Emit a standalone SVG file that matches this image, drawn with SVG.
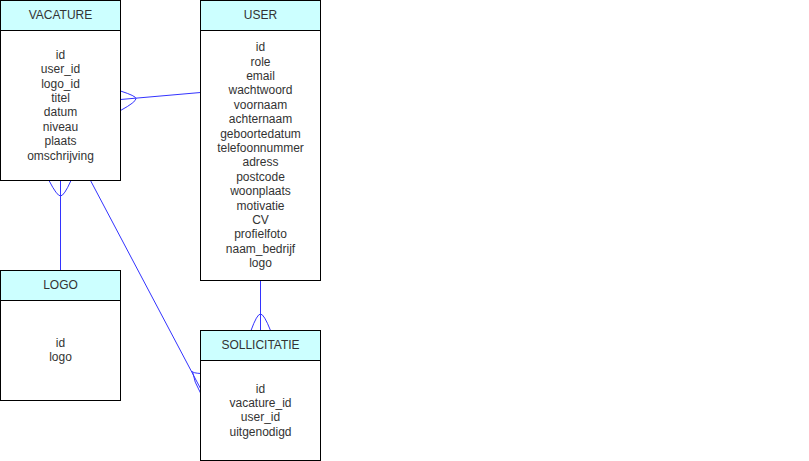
<svg xmlns="http://www.w3.org/2000/svg" width="809" height="461" viewBox="0 0 809 461">
<style>
.box{fill:#ffffff;stroke:#000000;stroke-width:1}
.hdr{fill:#ccffff;stroke:#000000;stroke-width:1}
.t{font-family:"Liberation Sans",Arial,sans-serif;font-size:12px;fill:#333333;text-anchor:middle}
.c{fill:none;stroke:#3333ff;stroke-width:1}
</style>
<rect width="809" height="461" fill="#ffffff"/>
<g id="connectors">
<path class="c" d="M120.5,99.5 L200.5,92.5"/>
<path class="c" d="M120.5,91 Q136,96 136,98.5 Q136,102 120.5,110.5"/>
<path class="c" d="M60.5,180.5 L60.5,270.5"/>
<path class="c" d="M49,180.5 Q57,196 60.5,196 Q64,196 71,180.5"/>
<path class="c" d="M260.5,280.5 L260.5,330.5"/>
<path class="c" d="M251,330.5 Q257,314 260.5,314 Q264,314 270.5,330.5"/>
<path class="c" d="M90.5,180.5 L200.5,388.5"/>
<path class="c" d="M200.5,373.5 Q193,373 192.5,371.5 Q194,382 200.5,393"/>
</g>
<g id="vacature">
<rect class="box" x="0.5" y="0.5" width="120" height="180"/>
<rect class="hdr" x="0.5" y="0.5" width="120" height="30"/>
<text class="t" x="60.5" y="19.3">VACATURE</text>
<text class="t" x="60.5" y="58.8">id</text>
<text class="t" x="60.5" y="73.2">user_id</text>
<text class="t" x="60.5" y="87.6">logo_id</text>
<text class="t" x="60.5" y="102">titel</text>
<text class="t" x="60.5" y="116.4">datum</text>
<text class="t" x="60.5" y="130.8">niveau</text>
<text class="t" x="60.5" y="145.2">plaats</text>
<text class="t" x="60.5" y="159.6">omschrijving</text>
</g>
<g id="user">
<rect class="box" x="200.5" y="0.5" width="120" height="280"/>
<rect class="hdr" x="200.5" y="0.5" width="120" height="30"/>
<text class="t" x="260.5" y="19.3">USER</text>
<text class="t" x="260.5" y="51.2">id</text>
<text class="t" x="260.5" y="65.6">role</text>
<text class="t" x="260.5" y="80">email</text>
<text class="t" x="260.5" y="94.4">wachtwoord</text>
<text class="t" x="260.5" y="108.8">voornaam</text>
<text class="t" x="260.5" y="123.2">achternaam</text>
<text class="t" x="260.5" y="137.6">geboortedatum</text>
<text class="t" x="260.5" y="152">telefoonnummer</text>
<text class="t" x="260.5" y="166.4">adress</text>
<text class="t" x="260.5" y="180.8">postcode</text>
<text class="t" x="260.5" y="195.2">woonplaats</text>
<text class="t" x="260.5" y="209.6">motivatie</text>
<text class="t" x="260.5" y="224">CV</text>
<text class="t" x="260.5" y="238.4">profielfoto</text>
<text class="t" x="260.5" y="252.8">naam_bedrijf</text>
<text class="t" x="260.5" y="267.2">logo</text>
</g>
<g id="logo">
<rect class="box" x="0.5" y="270.5" width="120" height="130"/>
<rect class="hdr" x="0.5" y="270.5" width="120" height="30"/>
<text class="t" x="60.5" y="289.3">LOGO</text>
<text class="t" x="60.5" y="347">id</text>
<text class="t" x="60.5" y="361.4">logo</text>
</g>
<g id="sollicitatie">
<rect class="box" x="200.5" y="330.5" width="120" height="130"/>
<rect class="hdr" x="200.5" y="330.5" width="120" height="30"/>
<text class="t" x="260.5" y="349.3">SOLLICITATIE</text>
<text class="t" x="260.5" y="392.6">id</text>
<text class="t" x="260.5" y="407">vacature_id</text>
<text class="t" x="260.5" y="421.4">user_id</text>
<text class="t" x="260.5" y="435.8">uitgenodigd</text>
</g>
</svg>
